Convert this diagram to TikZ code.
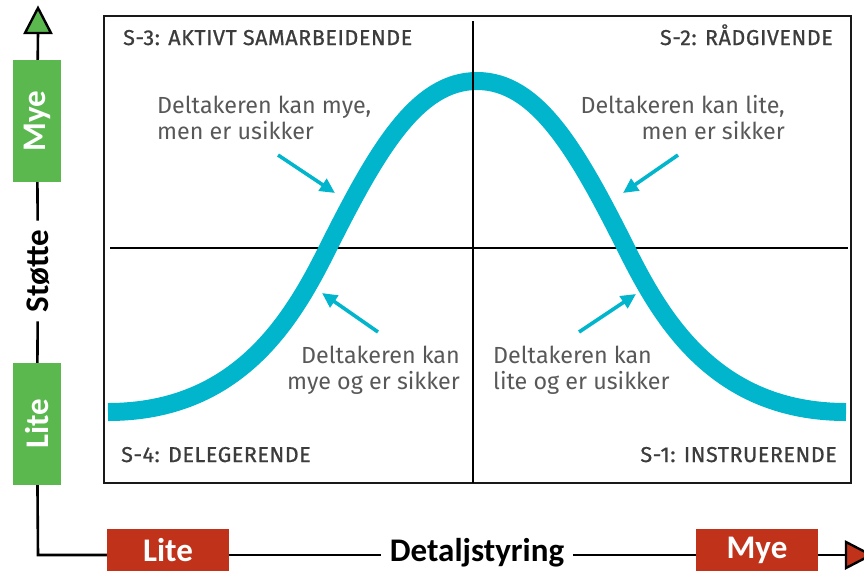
\documentclass[tikz,border=0pt]{standalone}
\usepackage{fontspec}
\setmainfont{Fira Sans}
\newfontfamily\calib{Carlito}
\newfontfamily\headf{Fira Sans}[FakeBold=0.8, LetterSpace=2.7]
\usetikzlibrary{arrows.meta}
\definecolor{cy}{RGB}{0,181,204}
\definecolor{gr}{RGB}{90,184,78}
\definecolor{rd}{RGB}{192,50,26}
\definecolor{hd}{RGB}{60,60,60}
\definecolor{bd}{RGB}{88,88,88}
\tikzset{
  axisline/.style={line width=2.6pt, black},
  lvbox/.style={fill=gr, text=white, minimum width=122pt, minimum height=48pt, rotate=90, inner sep=0pt, font=\calib\bfseries\fontsize{33}{36}\selectfont},
  lhbox/.style={fill=rd, text=white, minimum width=122pt, minimum height=42pt, inner sep=0pt, font=\calib\bfseries\fontsize{33}{36}\selectfont},
  axlabel/.style={fill=white, inner xsep=9pt, inner ysep=0pt, font=\calib\bfseries\fontsize{33}{36}\selectfont},
  quad/.style={text=hd, inner sep=0pt, font=\headf\fontsize{21.5}{24}\selectfont},
  body/.style={text=bd, inner sep=0pt, font=\fontsize{23.3}{26}\selectfont},
  pointer/.style={cy, line width=3.6pt, -{Triangle[length=15pt,width=14pt]}},
  divider/.style={line width=2.2pt, black}
}
\begin{document}
\begin{tikzpicture}[x=1pt,y=-1pt]
\useasboundingbox (0,0) rectangle (864,571);
\clip (0,0) rectangle (864,571);
% quadrant box
\draw[line width=2.7pt, black!90] (104,16) rectangle (851,483);
\draw[divider] (110,248) -- (848,248);
% bell curve
\draw[cy, line width=18pt] (108,412) .. controls (238,412) and (292,320) .. (327,250)
   .. controls (377,150) and (417,81) .. (477,81)
   .. controls (537,81) and (577,150) .. (627,250)
   .. controls (662,320) and (716,412) .. (846,412);
\draw[divider] (473,21) -- (473,483);
% quadrant labels
\node[quad, anchor=base west] (s3) at (123,45) {S-3: AKTIVT SAMARBEIDENDE};
\node[quad, anchor=base east] (s2) at (833,45) {S-2: RÅDGIVENDE};
\node[quad, anchor=base west] (s4) at (121,462) {S-4: DELEGERENDE};
\node[quad, anchor=base east] (s1) at (837,462) {S-1: INSTRUERENDE};
% body texts
\node[body, anchor=base west] (t3) at (157,113) {\begin{tabular}[t]{@{}l@{}}Deltakeren kan mye,\\ men er usikker\end{tabular}};
\node[body, anchor=base east] (t2) at (785,113) {\begin{tabular}[t]{@{}r@{}}Deltakeren kan lite,\\ men er sikker\end{tabular}};
\node[body, anchor=base east] (t4) at (460,363) {\begin{tabular}[t]{@{}r@{}}Deltakeren kan\\ mye og er sikker\end{tabular}};
\node[body, anchor=base west] (t1) at (493,363) {\begin{tabular}[t]{@{}l@{}}Deltakeren kan\\ lite og er usikker\end{tabular}};
% pointers
\coordinate (a3s) at (278,155); \coordinate (a3e) at (335,193);
\coordinate (a2s) at (678,155); \coordinate (a2e) at (623,193);
\coordinate (a4s) at (378,332); \coordinate (a4e) at (322,293);
\coordinate (a1s) at (579,332); \coordinate (a1e) at (636,294);
\draw[pointer] (a3s) -- (a3e);
\draw[pointer] (a2s) -- (a2e);
\draw[pointer] (a4s) -- (a4e);
\draw[pointer] (a1s) -- (a1e);
% vertical axis
\coordinate (topbase) at (38,33);
\draw[line width=2.4pt, fill=gr, line join=miter] (25,33) -- (51,33) -- (38,8) -- cycle;
\node[lvbox] (vmye) at (37,121) {Mye};
\node[axlabel, rotate=90] (stotte) at (38,271) {Støtte};
\node[lvbox] (vlite) at (37,424) {Lite};
\node[lhbox] (hlite) at (168,550) {Lite};
\node[axlabel] (detal) at (477,553) {Detaljstyring};
\node[lhbox] (hmye) at (757,550) {Mye};
\coordinate (corner) at (38,555);
\coordinate (rightbase) at (846,555);
\draw[axisline] (topbase) -- (vmye);
\draw[axisline] (vmye) -- (stotte);
\draw[axisline] (stotte) -- (vlite);
\draw[axisline] (vlite) -- (corner) -- (corner -| hlite.west);
\draw[axisline] (corner -| hlite.east) -- (corner -| detal.west);
\draw[axisline] (corner -| detal.east) -- (corner -| hmye.west);
\draw[axisline] (corner -| hmye.east) -- (rightbase);
\draw[line width=2.4pt, fill=rd, line join=miter] (846,542) -- (846,568) -- (871,555) -- cycle;
\end{tikzpicture}
\end{document}
